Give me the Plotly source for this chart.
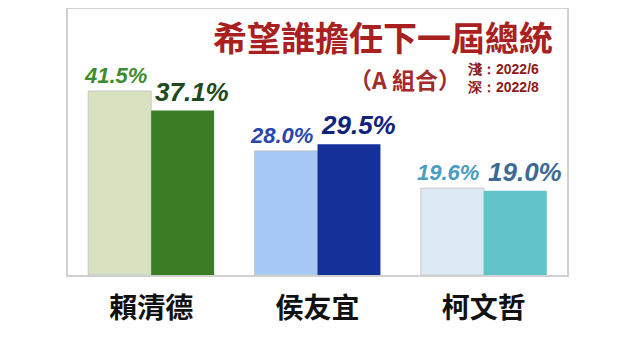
import plotly.graph_objects as go

candidates = ["賴清德", "侯友宜", "柯文哲"]
series_names = ["2022/6", "2022/8"]
values_jun = [41.5, 28.0, 19.6]
values_aug = [37.1, 29.5, 19.0]
bar_colors_jun = ["#d9e2c0", "#a6c9f5", "#dcebf3"]
bar_colors_aug = ["#3a7d24", "#14329a", "#62c4c8"]
text_colors_jun = ["#3f8c2e", "#2846ae", "#4a9cc2"]
text_colors_aug = ["#1f4a1c", "#10217f", "#3d6a96"]

NUM_FONT = "Liberation Sans, Arial, sans-serif"
CJK_FONT = "Noto Sans CJK TC, Noto Sans CJK SC, sans-serif"

fig = go.Figure()
fig.add_trace(go.Bar(
    name=series_names[0], x=candidates, y=values_jun,
    marker=dict(color=bar_colors_jun, line=dict(color="#c8c8c8", width=1)),
))
fig.add_trace(go.Bar(
    name=series_names[1], x=candidates, y=values_aug,
    marker=dict(color=bar_colors_aug, line=dict(width=0)),
))

annotations = []
for cat, v, col in zip(candidates, values_jun, text_colors_jun):
    annotations.append(dict(
        x=cat, y=v, xref="x", yref="y", text=f"{v:.1f}%", showarrow=False,
        xanchor="center", yanchor="bottom", xshift=-36, yshift=1,
        font=dict(family=NUM_FONT, size=22, color=col, style="italic", weight="bold")))
for cat, v, col in zip(candidates, values_aug, text_colors_aug):
    annotations.append(dict(
        x=cat, y=v, xref="x", yref="y", text=f"{v:.1f}%", showarrow=False,
        xanchor="center", yanchor="bottom", xshift=41, yshift=2,
        font=dict(family=NUM_FONT, size=26, color=col, style="italic", weight="bold")))

annotations += [
    dict(text="希望誰擔任下一屆總統", xref="paper", yref="paper", x=0.631, y=0.895,
         xanchor="center", yanchor="middle", showarrow=False,
         font=dict(family=CJK_FONT, size=34, color="#a82020", weight="bold")),
    dict(text="（<b>A</b> 組合）", xref="paper", yref="paper", x=0.675, y=0.737,
         xanchor="center", yanchor="middle", showarrow=False,
         font=dict(family=CJK_FONT, size=23, color="#a52a2a", weight="bold")),
    dict(text="淺：" + series_names[0] + "<br>深：" + series_names[1],
         xref="paper", yref="paper", x=0.795, y=0.74,
         xanchor="left", yanchor="middle", align="left", showarrow=False,
         font=dict(family=NUM_FONT, size=14, color="#8b1a1a", weight="bold")),
]

fig.update_layout(
    width=640, height=358,
    margin=dict(l=60, r=81, t=1, b=91, autoexpand=False),
    paper_bgcolor="white", plot_bgcolor="white",
    barmode="group", bargap=0.243, bargroupgap=0,
    showlegend=False,
    xaxis=dict(
        showline=True, linecolor="#d0d0d0", linewidth=1.5, mirror=True,
        showgrid=False, ticks="", ticklabelstandoff=8, automargin=False,
        tickfont=dict(family=CJK_FONT, size=28, color="#111111", weight="bold"),
    ),
    yaxis=dict(
        range=[0, 60], showline=True, linecolor="#d0d0d0", linewidth=1.5, mirror=True,
        showgrid=False, showticklabels=False, ticks="", zeroline=False, automargin=False,
    ),
    annotations=annotations,
)

fig.write_html("out.html")
